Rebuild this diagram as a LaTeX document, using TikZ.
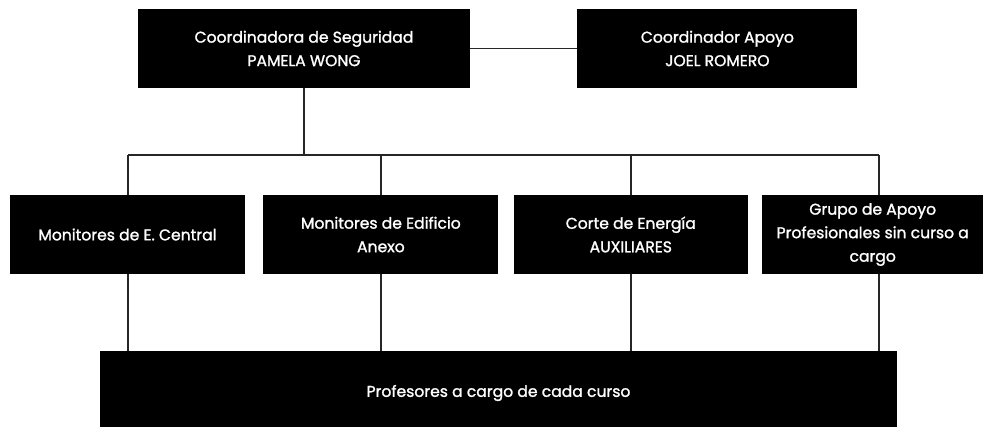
\documentclass[tikz,border=0pt]{standalone}
\usepackage{fontspec}
\setmainfont{Poppins}[FakeBold=1.4]
\usetikzlibrary{positioning}

\begin{document}
\begin{tikzpicture}[x=1pt, y=1pt, node distance=15pt]
          \tikzset{
              mynode/.style={rectangle, fill=black, draw=none, text=white, inner sep=0pt, minimum height=79pt, align=center, font=\fontsize{15.6}{23.5}\selectfont},
              myline/.style={draw=black!85, line width=1.6pt}
          }
          \useasboundingbox (0,0) rectangle (985,-426);
          \node[mynode, minimum width=332pt] (coord) at (304,-48.5) {Coordinadora de Seguridad\\PAMELA WONG};
          \node[mynode, minimum width=280pt, right=107pt of coord] (apoyo) {Coordinador Apoyo\\JOEL ROMERO};
          \node[mynode, minimum width=235pt] (central) at (127.5,-234.5) {Monitores de E. Central};
          \node[mynode, minimum width=235pt, right=18pt of central] (anexo) {Monitores de Edificio\\Anexo};
          \node[mynode, minimum width=234pt, right=15pt of anexo] (energia) {Corte de Energía\\AUXILIARES};
          \node[mynode, minimum width=221pt, right=14pt of energia] (grupo) {Grupo de Apoyo\\Profesionales sin curso a\\cargo};
          \node[mynode, minimum width=797pt, minimum height=84pt] (profes) at (498.5,-393) {Profesores a cargo de cada curso};

          % bus between the two levels
          \coordinate (t1) at (128,-155);
          \coordinate (t2) at (381,-155);
          \coordinate (t3) at (631,-155);
          \coordinate (t4) at (879,-155);

          \draw[myline] (coord.east) -- (apoyo.west);
          \draw[myline] (coord.south) -- (coord.south |- t1);
          \draw[myline] (t1) -- (t4);
          \foreach \t/\n in {t1/central, t2/anexo, t3/energia, t4/grupo}
            \draw[myline] (\t) -- (\t |- \n.north);
          \foreach \t/\n in {t1/central, t2/anexo, t3/energia, t4/grupo}
            \draw[myline] (\t |- \n.south) -- (\t |- profes.north);
        \end{tikzpicture}
\end{document}
